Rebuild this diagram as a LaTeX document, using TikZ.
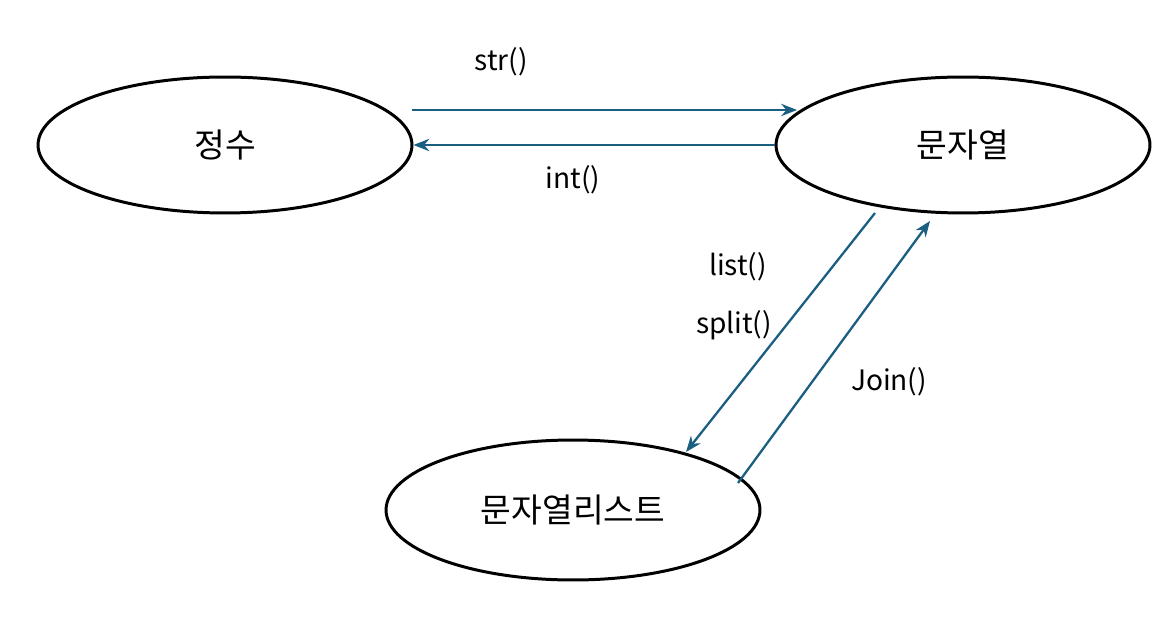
\documentclass[tikz,border=0pt]{standalone}
\usepackage{fontspec}
\setmainfont{Noto Sans CJK KR}
\usetikzlibrary{arrows.meta,shapes.geometric}
\definecolor{linkblue}{RGB}{26,95,130}
\tikzset{
  state/.style={draw, ellipse, line width=1.7pt, minimum width=7.48cm, minimum height=2.72cm, inner sep=0pt, font=\fontsize{19}{22}\selectfont},
  link/.style={draw=linkblue, line width=1.3pt, -{Stealth[length=9pt,width=7pt]}},
  lbl/.style={font=\fontsize{16}{19}\selectfont}
}
\begin{document}
\begin{tikzpicture}[x=0.02cm,y=-0.02cm]
  \useasboundingbox (0,0) rectangle (1168,624);
  % states
  \node[state] (int) at (225,145) {정수};
  \node[state] (str) at (963,145) {문자열};
  \node[state, minimum height=2.8cm] (lst) at (573,510) {문자열리스트};
  % free ends
  \coordinate (a1) at (412,110);
  \coordinate (a2) at (797,110);
  \coordinate (b1) at (875,213);
  \coordinate (b2) at (686,452);
  \coordinate (c1) at (738,483);
  \coordinate (c2) at (930,221);
  % connectors
  \draw[link] (a1) -- (a2);
  \draw[link] (str.west) -- (int.east);
  \draw[link] (b1) -- (b2);
  \draw[link] (c1) -- (c2);
  % labels
  \node[lbl] (strlbl) at (501,62) {str()};
  \node[lbl] (intlbl) at (573,180) {int()};
  \node[lbl] (listlbl) at (738,267) {list()};
  \node[lbl] (splitlbl) at (734,325) {split()};
  \node[lbl] (joinlbl) at (889,382) {Join()};
\end{tikzpicture}
\end{document}
